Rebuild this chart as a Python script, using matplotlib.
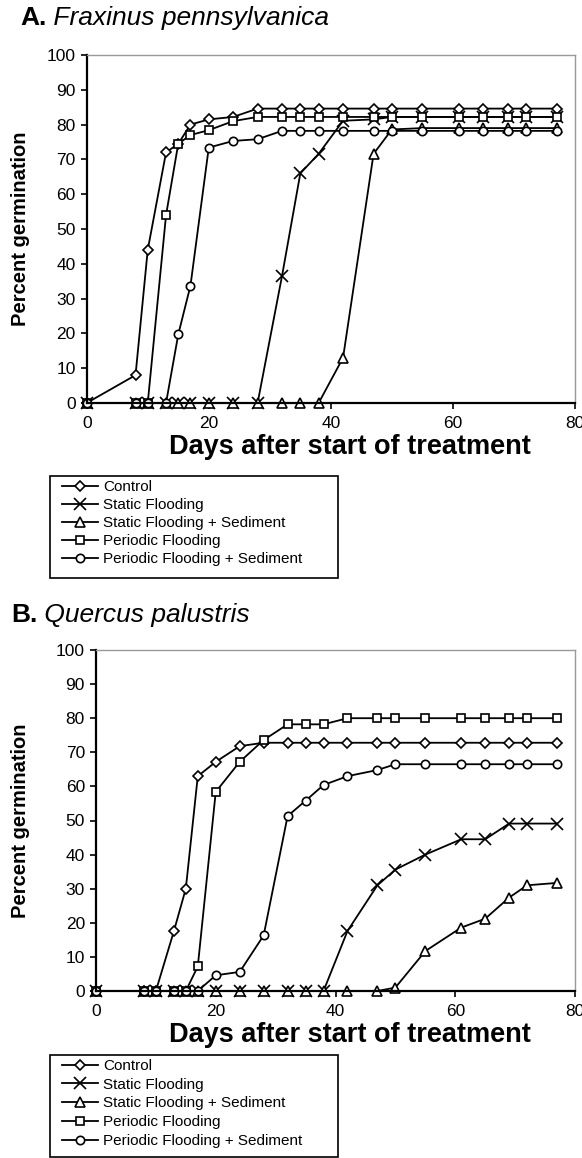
import matplotlib
matplotlib.use("Agg")
import matplotlib.pyplot as plt
from matplotlib.patches import Rectangle

plt.rcParams['font.family'] = ['Liberation Sans', 'DejaVu Sans']

# days after start of treatment
days = [0, 8, 10, 13, 15, 17, 20, 24, 28, 32, 35, 38, 42, 47, 50, 55, 61, 65, 69, 72, 77]

labels = ['Control', 'Static Flooding', 'Static Flooding + Sediment',
          'Periodic Flooding', 'Periodic Flooding + Sediment']

# A. Fraxinus pennsylvanica
control_a = [0, 8, 44, 72, 74.5, 80, 81.5, 82.2] + [84.6] * 13
static_a = [0] * 9 + [36.5, 66, 71.6, 81.1, 81.5] + [82.2] * 7
static_sed_a = [0] * 12 + [13, 71.6, 78.6] + [79] * 6
periodic_a = [0, 0, 0, 54, 74.5, 77, 78.4, 81] + [82.2] * 13
periodic_sed_a = [0, 0, 0, 0, 19.7, 33.7, 73.4, 75.3, 75.8] + [78.2] * 12

# B. Quercus palustris
control_b = [0, 0, 0, 17.5, 30, 63, 67.2, 71.8] + [72.8] * 13
static_b = [0] * 12 + [17.6, 31, 35.6, 40, 44.5, 44.5, 49.1, 49.1, 49.1]
static_sed_b = [0] * 14 + [1.0, 11.7, 18.6, 21.2, 27.4, 31, 31.7]
periodic_b = [0] * 5 + [7.2, 58.4, 67.2, 73.6, 78.2, 78.2, 78.2] + [80] * 9
periodic_sed_b = [0] * 6 + [4.6, 5.6, 16.3, 51.3, 55.8, 60.4, 63, 64.8] + [66.5] * 7

markers = ['D', 'x', '^', 's', 'o']
msizes = [5, 8, 6.5, 6, 6]

fig = plt.figure(figsize=(5.82, 11.58), dpi=100)
W, H = 582.0, 1158.0


def panel(rect, series, letter, name, ty, tx):
    ax = fig.add_axes(rect)
    wpx, hpx = rect[2] * W, rect[3] * H
    lines = []
    for vals, m, ms, lab in zip(series, markers, msizes, labels):
        ln, = ax.plot(days, vals, color='black', lw=1.3, marker=m, ms=ms,
                      mfc='white', mec='black', mew=1.2, label=lab, clip_on=False)
        lines.append(ln)
    ax.set_xlim(0, 80)
    ax.set_ylim(0, 100)
    ax.set_xticks([0, 20, 40, 60, 80])
    ax.set_yticks(range(0, 101, 10))
    ax.tick_params(direction='out', length=4.5, width=1.2, labelsize=12.5, color='black')
    ax.tick_params(axis='x', pad=5)
    for s in ['left', 'bottom']:
        ax.spines[s].set_linewidth(1.6)
    for s in ['top', 'right']:
        ax.spines[s].set_color('0.6')
        ax.spines[s].set_linewidth(1.0)
    ax.set_xlabel('Days after start of treatment', fontsize=19.5, fontweight='bold')
    ax.xaxis.set_label_coords((350 - rect[0] * W) / wpx, -44 / hpx)
    ax.xaxis.label.set_va('center')
    ax.set_ylabel('Percent germination', fontsize=14.5, fontweight='bold')
    ax.yaxis.set_label_coords((30 - rect[0] * W) / wpx, 0.5)
    t1 = fig.text(tx / W, 1 - ty / H, letter, fontsize=19, fontweight='bold', va='center')
    ax.annotate(' ' + name, xy=(1, 0), xycoords=t1, va='bottom', fontsize=19,
                fontstyle='italic')
    return ax, lines


ax1, lines = panel([86.7 / W, 1 - 403 / H, (575 - 86.7) / W, 348 / H],
                   [control_a, static_a, static_sed_a, periodic_a, periodic_sed_a],
                   'A.', 'Fraxinus pennsylvanica', 18, 20)
ax2, _ = panel([96 / W, 1 - 991 / H, (575 - 96) / W, 341 / H],
               [control_b, static_b, static_sed_b, periodic_b, periodic_sed_b],
               'B.', 'Quercus palustris', 615, 11)

# legend frames (wider than the text, as in the original)
for y0, y1, first, sp in [(476, 578, 480, 0.27), (1055, 1157, 1059, 0.31)]:
    fig.patches.append(Rectangle((50 / W, 1 - y1 / H), 288 / W, (y1 - y0) / H,
                                 transform=fig.transFigure, fill=False,
                                 edgecolor='black', lw=1.2))
    fig.legend(lines, labels, loc='upper left', bbox_to_anchor=(62 / W, 1 - first / H),
               fontsize=11, frameon=False, handlelength=2.35, labelspacing=sp,
               borderpad=0, handletextpad=0.33, borderaxespad=0)

fig.savefig('out.png', dpi=100)
